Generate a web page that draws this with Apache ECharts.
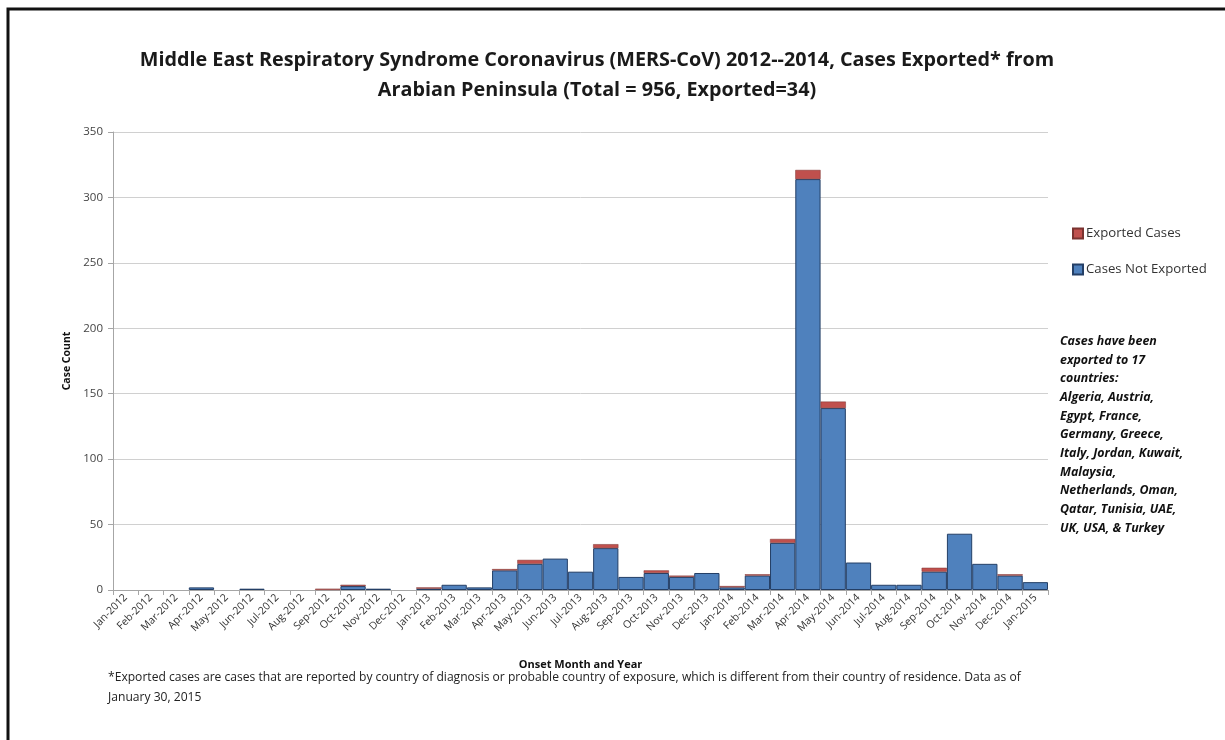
<!DOCTYPE html>
<html>
<head>
<meta charset="utf-8">
<script src="https://cdn.jsdelivr.net/npm/echarts@6/dist/echarts.min.js"></script>
<style>
  html, body { margin: 0; padding: 0; background: #fff; }
  #main { width: 1225px; height: 740px; }
</style>
</head>
<body>
<div id="main"></div>
<script>
// month of onset, Jan-2012 .. Jan-2015
const months = [
  'Jan-2012', 'Feb-2012', 'Mar-2012', 'Apr-2012', 'May-2012', 'Jun-2012', 'Jul-2012', 'Aug-2012',
  'Sep-2012', 'Oct-2012', 'Nov-2012', 'Dec-2012', 'Jan-2013', 'Feb-2013', 'Mar-2013', 'Apr-2013',
  'May-2013', 'Jun-2013', 'Jul-2013', 'Aug-2013', 'Sep-2013', 'Oct-2013', 'Nov-2013', 'Dec-2013',
  'Jan-2014', 'Feb-2014', 'Mar-2014', 'Apr-2014', 'May-2014', 'Jun-2014', 'Jul-2014', 'Aug-2014',
  'Sep-2014', 'Oct-2014', 'Nov-2014', 'Dec-2014', 'Jan-2015'
];
const notExported = [
  0, 0, 0, 2, 0, 1, 0, 0,
  0, 3, 1, 0, 1, 4, 2, 15,
  20, 24, 14, 32, 10, 13, 10, 13,
  2, 11, 36, 314, 139, 21, 4, 4,
  14, 43, 20, 11, 6
];
const exported = [
  0, 0, 0, 0, 0, 0, 0, 0,
  1, 1, 0, 0, 1, 0, 0, 1,
  3, 0, 0, 3, 0, 2, 1, 0,
  1, 1, 3, 7, 5, 0, 0, 0,
  3, 0, 0, 1, 0
];
const yTicks = [0, 50, 100, 150, 200, 250, 300, 350];

const countries = [
  'Cases have been',
  'exported to 17',
  'countries:',
  'Algeria, Austria,',
  'Egypt, France,',
  'Germany, Greece,',
  'Italy, Jordan, Kuwait,',
  'Malaysia,',
  'Netherlands, Oman,',
  'Qatar, Tunisia, UAE,',
  'UK, USA, & Turkey'
];

const font = '"Open Sans", "Noto Sans", sans-serif';

// empty months get no bar at all (otherwise the border draws a stub)
const blank = v => (v === 0 ? '-' : v);

const chart = echarts.init(document.getElementById('main'));

chart.setOption({
  animation: false,
  backgroundColor: '#fff',
  title: {
    text: 'Middle East Respiratory Syndrome Coronavirus (MERS-CoV) 2012--2014, Cases Exported* from\nArabian Peninsula (Total = 956, Exported=34)',
    left: 592,
    top: 40,
    textAlign: 'center',
    textStyle: {
      fontFamily: font,
      fontSize: 19.8,
      fontWeight: 'bold',
      color: '#1a1a1a',
      lineHeight: 30
    }
  },
  legend: {
    orient: 'vertical',
    left: 1067,
    top: 222,
    itemWidth: 10,
    itemHeight: 10,
    itemGap: 23,
    icon: 'rect',
    data: ['Exported Cases', 'Cases Not Exported'],
    textStyle: { fontFamily: font, fontSize: 13.2, color: '#333', padding: [0, 0, 0, -2] }
  },
  grid: { left: 113, right: 177, top: 132, bottom: 150, containLabel: false },
  xAxis: {
    type: 'category',
    data: months,
    name: 'Onset Month and Year',
    nameLocation: 'middle',
    nameGap: 69,
    nameTextStyle: { fontFamily: font, fontSize: 11, fontWeight: 'bold', color: '#111' },
    axisLine: { lineStyle: { color: '#a6a6a6' } },
    axisTick: { show: true, alignWithLabel: false, length: 5, lineStyle: { color: '#a6a6a6' } },
    axisLabel: {
      interval: 0,
      rotate: 45,
      fontFamily: font,
      fontSize: 10.5,
      color: '#333',
      margin: 6
    }
  },
  yAxis: {
    type: 'value',
    min: yTicks[0],
    max: yTicks[yTicks.length - 1],
    interval: 50,
    name: 'Case Count',
    nameLocation: 'middle',
    nameGap: 35,
    nameRotate: 90,
    nameTextStyle: { fontFamily: font, fontSize: 10.5, fontWeight: 'bold', color: '#111' },
    axisLine: { show: true, lineStyle: { color: '#a6a6a6' } },
    axisTick: { show: true, inside: false, length: 5, lineStyle: { color: '#a6a6a6' } },
    axisLabel: { fontFamily: font, fontSize: 11.5, color: '#444', margin: 10 },
    splitLine: { lineStyle: { color: '#d0d0d0' } }
  },
  series: [
    {
      name: 'Cases Not Exported',
      type: 'bar',
      stack: 'cases',
      data: notExported.map(blank),
      barCategoryGap: '0%',
      itemStyle: { color: '#4f81bd', borderColor: '#243f66', borderWidth: 1 }
    },
    {
      name: 'Exported Cases',
      type: 'bar',
      stack: 'cases',
      data: exported.map(blank),
      barCategoryGap: '0%',
      itemStyle: { color: '#c0504d', borderColor: '#7a3330', borderWidth: 0.5 }
    }
  ],
  graphic: [
    {
      type: 'rect',
      shape: { x: 8, y: 9, width: 1240, height: 760 },
      style: { fill: 'none', stroke: '#111', lineWidth: 3 },
      silent: true
    },
    {
      type: 'text',
      left: 1060,
      top: 332,
      style: {
        text: countries.join('\n'),
        fontFamily: font,
        fontSize: 12.4,
        fontWeight: 'bold',
        fontStyle: 'italic',
        lineHeight: 18.7,
        fill: '#111'
      }
    },
    {
      type: 'text',
      left: 108,
      top: 668,
      style: {
        text: '*Exported cases are cases that are reported by country of diagnosis or probable country of exposure, which is different from their country of residence. Data as of\nJanuary 30, 2015',
        fontFamily: font,
        fontSize: 12.1,
        lineHeight: 20,
        fill: '#222'
      }
    }
  ]
});
</script>
</body>
</html>
